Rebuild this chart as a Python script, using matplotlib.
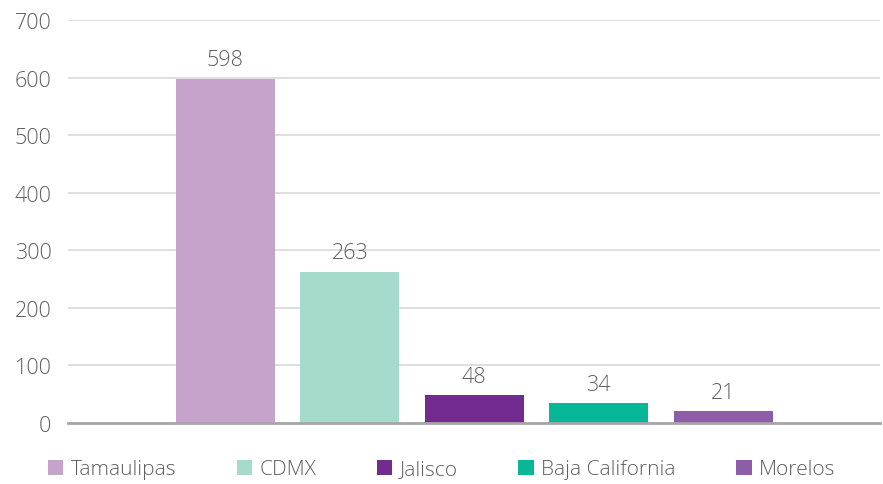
import matplotlib.pyplot as plt
from matplotlib.patches import Patch

states = ["Tamaulipas", "CDMX", "Jalisco", "Baja California", "Morelos"]
values = [598, 263, 48, 34, 21]
colors = ["#C5A3CB", "#A6DACC", "#722B8E", "#07B797", "#8D5EA5"]
yticks = [0, 100, 200, 300, 400, 500, 600, 700]

plt.rcParams['font.family'] = ['Open Sans', 'DejaVu Sans']
plt.rcParams['font.weight'] = 'light'
text_color = "#5F5F5F"

fig = plt.figure(figsize=(8.83, 4.85), dpi=100)
ax = fig.add_axes([0.077, 0.1258, 0.9196, 0.8309])

x = list(range(len(states)))
bars = ax.bar(x, values, width=0.795, color=colors, zorder=2)
ax.bar_label(bars, labels=[str(v) for v in values], padding=6,
             fontsize=15.5, color=text_color)

ax.set_xlim(-1.265, 5.26)
ax.set_ylim(0, 700)
ax.set_yticks(yticks)
ax.set_xticks([])
ax.yaxis.grid(True, color="#D9D9D9", linewidth=1.2, zorder=0)
ax.set_axisbelow(True)
for side in ["top", "right", "left"]:
    ax.spines[side].set_visible(False)
ax.spines["bottom"].set_color("#A6A6A6")
ax.spines["bottom"].set_linewidth(2)
ax.spines["bottom"].set_zorder(3)
ax.tick_params(axis="y", length=0, pad=12, labelsize=15.5, labelcolor=text_color)

handles = [Patch(facecolor=c, edgecolor="none") for c in colors]
fig.legend(handles, states, loc="center", bbox_to_anchor=(0.5, 0.03), ncol=5,
           frameon=False, fontsize=15, labelcolor=text_color,
           handlelength=0.75, handleheight=0.75, handletextpad=0.35,
           columnspacing=2.9)

fig.savefig("out.png", dpi=100)
